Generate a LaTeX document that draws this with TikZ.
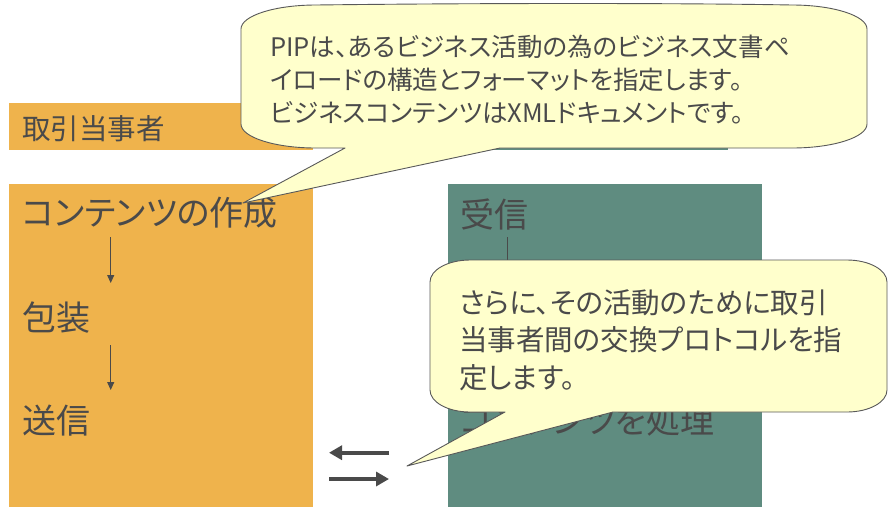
\documentclass[tikz,border=0pt]{standalone}
\usepackage{fontspec}
\setmainfont{Noto Sans CJK JP}[RawFeature=+palt]
\usetikzlibrary{arrows.meta}
\definecolor{laneorange}{HTML}{EFB34C}
\definecolor{laneteal}{HTML}{5F8C80}
\definecolor{notefill}{HTML}{FFFFCC}
\definecolor{noteline}{HTML}{595959}
\definecolor{ink}{HTML}{4A4A4A}
\begin{document}
\begin{tikzpicture}[x=1pt,y=-1pt,
  lanebox/.style={fill=#1, draw=none, inner sep=0pt, outer sep=0pt, anchor=north west},
  lanelabel/.style={anchor=west, inner sep=0pt, text=ink, font=\fontsize{34}{40}\selectfont},
  hdrlabel/.style={anchor=west, inner sep=0pt, text=ink, font=\fontsize{28.5}{34}\selectfont},
  flow/.style={draw=ink, line width=1pt, -{Triangle[length=8pt,width=7pt]}},
  xchg/.style={draw=ink, line width=4pt, -{Triangle[length=13pt,width=14pt]}},
  note/.style={fill=notefill, draw=noteline, line width=0.9pt, line join=round},
  notetext/.style={anchor=north west, inner sep=0pt, align=left, text=ink}
]
\useasboundingbox (0,0) rectangle (888,507);
\fill[white] (0,0) rectangle (888,507);

% header bars
\node[lanebox=laneorange, minimum width=304, minimum height=47] (hdrL) at (9,103) {};
\node[lanebox=laneteal, minimum width=281, minimum height=47] (hdrR) at (447,103) {};
\node[hdrlabel] (hdrLt) at (22,129) {取引当事者};

% lanes
\node[lanebox=laneorange, minimum width=304, minimum height=323] (laneL) at (9,184) {};
\node[lanebox=laneteal, minimum width=314, minimum height=323] (laneR) at (448,184) {};

% left lane steps
\node[lanelabel] (n1) at (22,213) {コンテンツの作成};
\node[lanelabel] (n2) at (22,318) {包装};
\node[lanelabel] (n3) at (22,421) {送信};

% right lane steps
\node[lanelabel] (m1) at (460,215) {受信};
\node[lanelabel] (m4) at (460,421) {コンテンツを処理};

% flow arrows
\coordinate (a1s) at (110.7,237);
\coordinate (a1e) at (110.7,283);
\coordinate (a2s) at (110.7,345);
\coordinate (a2e) at (110.7,390);
\coordinate (b1s) at (507.5,237);
\coordinate (b1e) at (507.5,283);
\draw[flow] (a1s) -- (a1e);
\draw[flow] (a2s) -- (a2e);
\draw[flow] (b1s) -- (b1e);

% exchange arrows
\coordinate (x1a) at (389,452.7);
\coordinate (x1b) at (329,452.7);
\coordinate (x2a) at (329,479);
\coordinate (x2b) at (389,479);
\draw[xchg] (x1a) -- (x1b);
\draw[xchg] (x2a) -- (x2b);

% callout 1
\coordinate (tip1) at (243,203);
\path[note] (316,5) .. controls (480,3) and (680,3) .. (792,5) .. controls (833.4,5) and (867,15.75) .. (867,29)
  -- (867,124) .. controls (867,137.25) and (833.4,148) .. (792,148)
  -- (500,148) -- (tip1) -- (345,148)
  -- (316,148) .. controls (274.6,148) and (241,137.25) .. (241,124)
  -- (241,29) .. controls (241,15.75) and (274.6,5) .. (316,5) -- cycle;
\node[notetext, font=\fontsize{25.5}{33}\selectfont] (t1) at (270,35)
  {PIPは、あるビジネス活動の為のビジネス文書ペ\\イロードの構造とフォーマットを指定します。\\ビジネスコンテンツはXMLドキュメントです。};

% callout 2
\coordinate (tip2) at (407,466);
\path[note] (470,260) -- (847,260) .. controls (869.1,260) and (887,269.85) .. (887,282)
  -- (887,390) .. controls (887,402.15) and (869.1,412) .. (847,412)
  -- (613,412) -- (tip2) -- (505,412)
  -- (470,412) .. controls (447.9,412) and (430,402.15) .. (430,390)
  -- (430,282) .. controls (430,269.85) and (447.9,260) .. (470,260) -- cycle;
\node[notetext, font=\fontsize{28.5}{37.5}\selectfont] (t2) at (459,289)
  {さらに、その活動のために取引\\当事者間の交換プロトコルを指\\定します。};
\end{tikzpicture}
\end{document}
